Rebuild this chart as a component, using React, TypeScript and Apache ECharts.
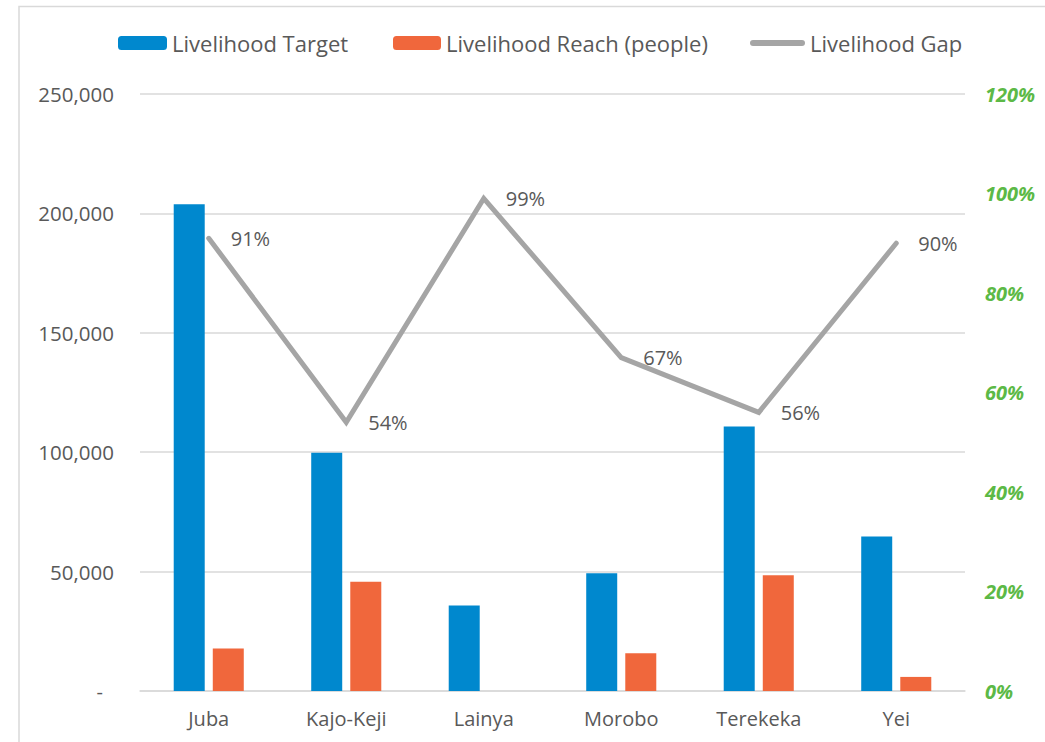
import React, { useEffect, useRef } from "react";
import * as echarts from "echarts";

const categories = ["Juba", "Kajo-Keji", "Lainya", "Morobo", "Terekeka", "Yei"];
const targetValues = [203800, 99800, 35800, 49300, 110800, 64700];
const reachValues = [17800, 45800, 0, 15800, 48500, 5900];
const gapValues = [0.91, 0.54, 0.99, 0.67, 0.56, 0.9];
const gapLabels = ["91%", "54%", "99%", "67%", "56%", "90%"];

const FONT = "'Open Sans', sans-serif";
const TXT = "#595959";

export default function App() {
  const ref = useRef<HTMLDivElement>(null);
  useEffect(() => {
    if (!ref.current) return;
    const chart = echarts.init(ref.current, undefined, { renderer: "svg" });
    const legendText = { color: TXT, fontSize: 22, fontFamily: FONT };
    chart.setOption({
      animation: false,
      backgroundColor: "#fff",
      textStyle: { fontFamily: FONT },
      graphic: [
        {
          type: "rect",
          shape: { x: 19, y: 6.5, width: 1200, height: 900 },
          style: { fill: "none", stroke: "#D9D9D9", lineWidth: 1.5 },
          silent: true,
        },
      ],
      legend: [
        {
          data: ["Livelihood Target"],
          left: 118,
          top: 32,
          padding: 0,
          itemWidth: 49,
          itemHeight: 14,
          textStyle: legendText,
        },
        {
          data: ["Livelihood Reach (people)"],
          left: 393,
          top: 32,
          padding: 0,
          itemWidth: 48,
          itemHeight: 14,
          textStyle: legendText,
        },
        {
          data: [
            {
              name: "Livelihood Gap",
              icon: "path://M3,0 L52,0 A3,3 0 0 1 52,6 L3,6 A3,3 0 0 1 3,0 Z",
              itemStyle: { color: "#A5A5A5", opacity: 1 },
            },
          ],
          left: 750,
          top: 32,
          padding: 0,
          itemWidth: 55,
          itemHeight: 6,
          itemStyle: { color: "#A5A5A5", borderWidth: 0, opacity: 1 },
          lineStyle: { width: 0 },
          textStyle: legendText,
        },
      ],
      grid: { left: 140, right: 80, top: 94, bottom: 51, containLabel: false },
      xAxis: {
        type: "category",
        data: categories,
        axisLine: { lineStyle: { color: "#D9D9D9", width: 1.5 } },
        axisTick: { show: false },
        axisLabel: { color: TXT, fontSize: 20, fontFamily: FONT, margin: 17 },
      },
      yAxis: [
        {
          type: "value",
          min: 0,
          max: 250000,
          interval: 50000,
          axisLine: { show: false },
          axisTick: { show: false },
          splitLine: { lineStyle: { color: "#D9D9D9", width: 1.5 } },
          axisLabel: {
            color: TXT,
            fontSize: 20.5,
            fontFamily: FONT,
            margin: 26,
            formatter: (v: number) =>
              v === 0 ? "{d|-}" : v.toLocaleString("en-US"),
            rich: { d: { color: TXT, fontSize: 20, fontFamily: FONT, padding: [0, 11, 0, 0] } },
          },
        },
        {
          type: "value",
          min: 0,
          max: 1.2,
          interval: 0.2,
          axisLine: { show: false },
          axisTick: { show: false },
          splitLine: { show: false },
          axisLabel: {
            color: "#5CB946",
            fontSize: 20,
            fontStyle: "italic",
            fontWeight: "bold",
            fontFamily: FONT,
            margin: 20,
            formatter: (v: number) => Math.round(v * 100) + "%",
          },
        },
      ],
      series: [
        {
          name: "Livelihood Target",
          type: "bar",
          data: targetValues,
          barWidth: 31,
          barGap: "26%",
          itemStyle: { color: "#0088CE" },
        },
        {
          name: "Livelihood Reach (people)",
          type: "bar",
          data: reachValues,
          barWidth: 31,
          itemStyle: { color: "#F0673C" },
        },
        {
          name: "Livelihood Gap",
          type: "line",
          yAxisIndex: 1,
          data: gapValues,
          symbol: "circle",
          symbolSize: 2,
          showSymbol: true,
          lineStyle: { color: "#A5A5A5", width: 5, cap: "round", join: "miter" },
          itemStyle: { color: "#A5A5A5" },
          label: {
            show: true,
            position: "right",
            distance: 21,
            color: TXT,
            fontSize: 20,
            fontFamily: FONT,
            formatter: (p: any) => gapLabels[p.dataIndex],
          },
          z: 5,
        },
      ],
    });
    return () => chart.dispose();
  }, []);
  return (
    <div
      ref={ref}
      style={{ position: "absolute", left: 0, top: 0, width: 1045, height: 742 }}
    />
  );
}
